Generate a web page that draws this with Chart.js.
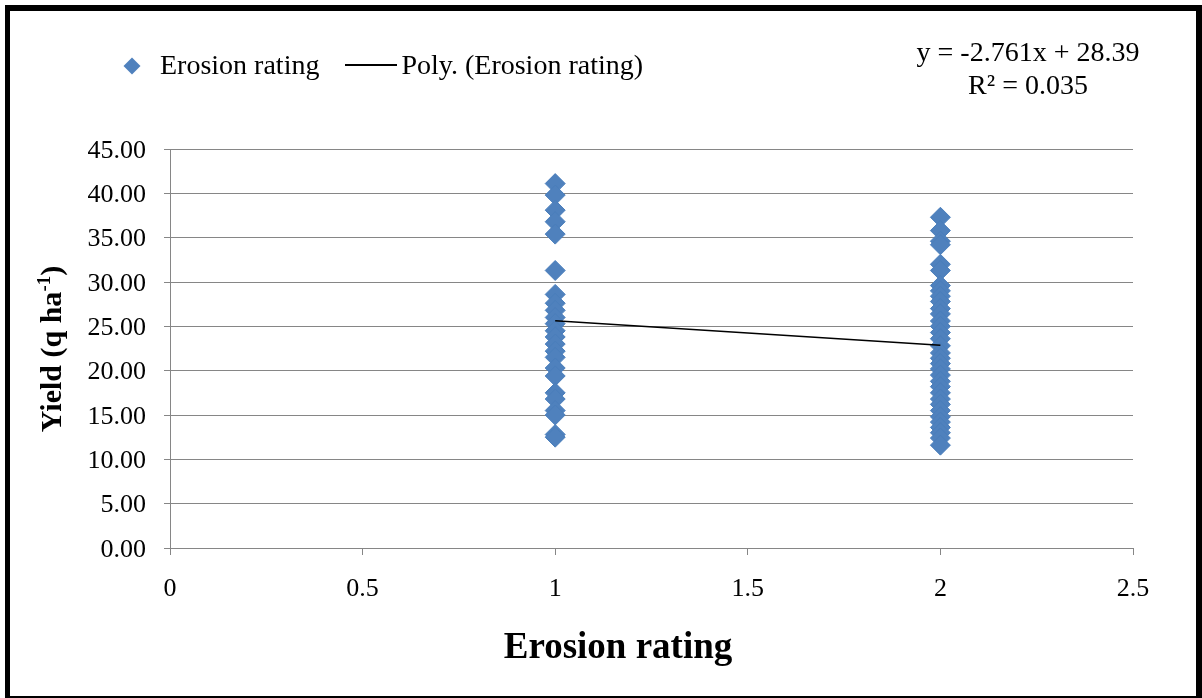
<!DOCTYPE html>
<html>
<head>
<meta charset="utf-8">
<script src="https://cdn.jsdelivr.net/npm/chart.js@4/dist/chart.umd.min.js"></script>
<style>
  html, body { margin: 0; padding: 0; background: #fff; }
  #wrap { position: relative; width: 1202px; height: 698px; overflow: hidden; font-family: "Liberation Serif", "Times New Roman", serif; color: #000; }
  #chart { position: absolute; left: 0; top: 0; }
  #frame { position: absolute; left: 5px; top: 5px; right: 0; bottom: 0; border-style: solid; border-color: #000; border-width: 6px 6px 2px 5px; pointer-events: none; }
  .txt { position: absolute; white-space: nowrap; }
  #legend { left: 120px; top: 47px; font-size: 28px; line-height: 36px; }
  #legend .dia { display: inline-block; width: 12px; height: 12px; background: #4F81BD; transform: rotate(45deg); margin: 0 22px 4px 6px; vertical-align: middle; }
  #legend .ln { display: inline-block; width: 52px; height: 0; border-top: 2px solid #000; margin: 0 4px 6px 26px; vertical-align: middle; }
  #eq { left: 878px; top: 35px; width: 300px; text-align: center; font-size: 28px; line-height: 33px; }
  #xtitle { left: 418px; top: 624px; width: 400px; text-align: center; font-size: 37px; font-weight: bold; }
  #ytitle { left: 50px; top: 349px; font-size: 30px; font-weight: bold; transform: translate(-50%, -50%) rotate(-90deg); }
  #ytitle sup { font-size: 19px; }
</style>
</head>
<body>
<div id="wrap">
  <canvas id="chart" width="1202" height="698"></canvas>
  <div id="legend" class="txt"><span class="dia"></span>Erosion rating<span class="ln"></span>Poly. (Erosion rating)</div>
  <div id="eq" class="txt">y = -2.761x + 28.39<br>R² = 0.035</div>
  <div id="xtitle" class="txt">Erosion rating</div>
  <div id="ytitle" class="txt">Yield (q ha<sup>-1</sup>)</div>
  <div id="frame"></div>
</div>
<script>
// yield values for each erosion rating
const rating1Yield = [41.1, 39.8, 38.1, 36.8, 35.4, 31.3, 28.6, 27.6, 26.8, 26.0, 25.3, 24.5,
  23.8, 23.0, 22.2, 21.5, 20.3, 19.4, 17.5, 16.8, 15.5, 15.0, 12.8, 12.5];
const rating2Yield = [37.3, 35.8, 34.6, 34.2, 32.0, 31.3, 29.6, 29.0, 28.4, 27.8, 27.0, 26.4,
  25.6, 25.0, 24.3, 23.6, 22.8, 22.0, 21.4, 20.8, 20.2, 19.5, 18.8, 18.2, 17.5, 16.8,
  16.2, 15.5, 14.8, 14.2, 13.6, 13.0, 12.4, 11.6];
const trendX = [1, 2];
const trendYield = [25.63, 22.87];
const xTicks = [0, 0.5, 1, 1.5, 2, 2.5];
const yTicks = [0, 5, 10, 15, 20, 25, 30, 35, 40, 45];

const points = rating1Yield.map(v => ({ x: 1, y: v }))
  .concat(rating2Yield.map(v => ({ x: 2, y: v })));
const trend = trendX.map((x, i) => ({ x: x, y: trendYield[i] }));

const gridColor = '#868686';
const tickFont = { family: 'Liberation Serif', size: 26 };

new Chart(document.getElementById('chart').getContext('2d'), {
  type: 'scatter',
  data: {
    datasets: [{
      label: 'Poly. (Erosion rating)',
      data: trend,
      showLine: true,
      borderColor: '#000',
      borderWidth: 1.6,
      pointRadius: 0,
      order: 0
    }, {
      label: 'Erosion rating',
      data: points,
      pointStyle: 'rectRot',
      pointRadius: 10,
      pointBackgroundColor: '#4F81BD',
      pointBorderColor: '#4A7EBB',
      pointBorderWidth: 1,
      order: 1
    }]
  },
  options: {
    responsive: false,
    animation: false,
    layout: { padding: { left: 30, top: 149, right: 69, bottom: 0 } },
    plugins: { legend: { display: false }, tooltip: { enabled: false } },
    scales: {
      x: {
        type: 'linear',
        min: xTicks[0],
        max: xTicks[xTicks.length - 1],
        afterBuildTicks: s => { s.ticks = xTicks.map(v => ({ value: v })); },
        afterFit: s => { s.height = 150; },
        ticks: { font: tickFont, color: '#000', padding: 19, maxRotation: 0, callback: v => String(v) },
        grid: { drawOnChartArea: false, color: gridColor, tickLength: 7 },
        border: { color: gridColor, width: 1 }
      },
      y: {
        min: yTicks[0],
        max: yTicks[yTicks.length - 1],
        afterBuildTicks: s => { s.ticks = yTicks.map(v => ({ value: v })); },
        afterFit: s => { s.width = 140; },
        ticks: { font: tickFont, color: '#000', padding: 18, labelOffset: 2, callback: v => v.toFixed(2) },
        grid: { color: gridColor, lineWidth: 1, tickLength: 6 },
        border: { color: gridColor, width: 1 }
      }
    }
  }
});
</script>
</body>
</html>
